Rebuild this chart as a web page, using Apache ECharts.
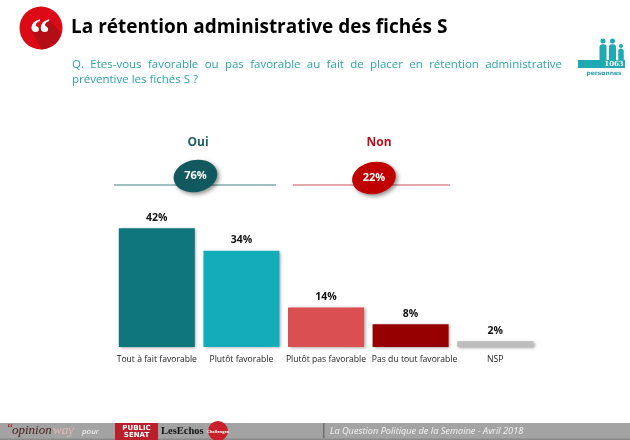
<!DOCTYPE html>
<html lang="fr">
<head>
<meta charset="UTF-8">
<title>La rétention administrative des fichés S</title>
<script src="https://cdn.jsdelivr.net/npm/echarts@6/dist/echarts.min.js"></script>
<style>
html, body { margin: 0; padding: 0; background: #fff; }
#main { width: 630px; height: 440px; }
</style>
</head>
<body>
<div id="main"></div>
<script>
var categories = ['Tout à fait favorable', 'Plutôt favorable', 'Plutôt pas favorable', 'Pas du tout favorable', 'NSP'];
var values = [42, 34, 14, 8, 2];
var barColors = ['#0f757c', '#12adb8', '#d94f52', '#960000', '#bdbdbd'];
var labelShift = [0, 0, 0, 8, 0];
var titleText = 'La rétention administrative des fichés S';
var questionLine1 = 'Q. Etes-vous favorable ou pas favorable au fait de placer en rétention administrative';
var questionLine2 = 'préventive les fichés S ?';
var groupNames = ['Oui', 'Non'];
var groupValues = ['76%', '22%'];
var sampleSize = '1063';
var footerText = 'La Question Politique de la Semaine - Avril 2018';

var font = '"Open Sans", sans-serif';
var serif = '"Liberation Serif", serif';
var teal = '#2fa3ad';
var iconTeal = '#1fa9b3';

// mot par mot pour garder le texte justifié de la question
function justified(line, x0, x1, y, size, color) {
    var ctx = document.createElement('canvas').getContext('2d');
    ctx.font = size + 'px "Open Sans"';
    var words = line.split(' ');
    var total = 0;
    words.forEach(function (w) { total += ctx.measureText(w).width; });
    var gap = (x1 - x0 - total) / (words.length - 1);
    var x = x0, out = [];
    words.forEach(function (w) {
        out.push({type: 'text', x: x, y: y, style: {text: w, font: size + 'px ' + font, fill: color, textVerticalAlign: 'middle'}});
        x += ctx.measureText(w).width + gap;
    });
    return out;
}

function txt(x, y, text, size, color, weight, align, extra) {
    var style = {
        text: text, fill: color,
        font: (extra && extra.italic ? 'italic ' : '') + (weight || 'normal') + ' ' + size + 'px ' + ((extra && extra.family) || font),
        textAlign: align || 'left', textVerticalAlign: 'middle'
    };
    return {type: 'text', x: x, y: y, z: 20, style: style};
}

function bubble(x, y, color, text) {
    return [
        {type: 'ellipse', x: x, y: y, rotation: 0.2, z: 10, shape: {cx: 0, cy: 0, rx: 22, ry: 16},
            style: {fill: color, shadowBlur: 4, shadowColor: 'rgba(0,0,0,0.45)', shadowOffsetX: 2, shadowOffsetY: 2}},
        txt(x, y, text, 11, '#fff', 'bold', 'center')
    ];
}

function person(x, headY, w, h) {
    return [
        {type: 'circle', z: 5, shape: {cx: x, cy: headY, r: w * 0.36}, style: {fill: iconTeal}},
        {type: 'rect', z: 5, shape: {x: x - w / 2, y: headY + w * 0.45, width: w, height: h, r: [3, 3, 0, 0]}, style: {fill: iconTeal}}
    ];
}

var graphics = [
    // en-tête
    {type: 'circle', shape: {cx: 41, cy: 28, r: 21.5}, style: {fill: '#dc0a17'}},
    {type: 'polygon', shape: {points: [[32, 32], [50, 20], [61, 33], [57, 42], [48, 48], [42, 49.4]]}, style: {fill: '#b30d16'}},
    txt(40, 36, '“', 42, '#fff', 'bold', 'center', {family: serif}),
    txt(71, 27.5, titleText, 19, '#000', 'bold'),
    txt(72, 79.5, questionLine2, 11.5, teal),
    // effectif
    {type: 'rect', z: 6, shape: {x: 578, y: 60, width: 47, height: 8}, style: {fill: iconTeal}},
    txt(614, 64.5, sampleSize, 7, '#fff', 'bold', 'center', {family: '"DejaVu Serif", serif'}),
    txt(604, 73, 'personnes', 6, teal, 'bold', 'center', {family: '"DejaVu Sans", sans-serif'}),
    // Oui / Non
    txt(198, 142.5, groupNames[0], 12, '#1f5f66', 'bold', 'center'),
    txt(379, 142.5, groupNames[1], 12, '#b5121b', 'bold', 'center'),
    {type: 'line', shape: {x1: 114, y1: 185, x2: 276, y2: 185}, style: {stroke: '#7fadaf', lineWidth: 1.5}},
    {type: 'line', shape: {x1: 293, y1: 185, x2: 450, y2: 185}, style: {stroke: '#dd8a90', lineWidth: 1.5}},
    // pied de page
    {type: 'rect', shape: {x: 0, y: 423, width: 630, height: 17}, style: {fill: '#a3a3a3'}},
    {type: 'rect', shape: {x: 0, y: 438.5, width: 630, height: 1.5}, style: {fill: '#8a8a8a'}},
    txt(6, 429, '“', 13, '#b5121b', 'normal', 'left', {family: serif, italic: true}),
    txt(12, 431, 'opinion', 13, '#4a1a1a', 'normal', 'left', {family: serif, italic: true}),
    txt(53, 431, 'way', 13, '#e6b8b8', 'normal', 'left', {family: serif, italic: true}),
    txt(82, 432, 'pour', 8, '#fff', 'normal', 'left', {italic: true}),
    {type: 'rect', shape: {x: 115, y: 423, width: 43, height: 17}, style: {fill: '#b8202b'}},
    txt(136.5, 428, 'PUBLIC', 7, '#fff', 'bold', 'center', {family: '"DejaVu Sans", sans-serif'}),
    txt(136.5, 435, 'SENAT', 7, '#fff', 'bold', 'center', {family: '"DejaVu Sans", sans-serif'}),
    txt(161, 431, 'LesEchos', 10.5, '#111', 'bold', 'left', {family: serif}),
    {type: 'circle', shape: {cx: 218, cy: 431, r: 10}, style: {fill: '#c8202b'}},
    txt(218, 432, 'Challenges', 4, '#fff', 'bold', 'center'),
    {type: 'rect', shape: {x: 323, y: 423, width: 1.5, height: 15}, style: {fill: '#6f6f6f'}},
    txt(330, 431, footerText, 9.2, '#f4f4f4', 'normal', 'left', {italic: true})
];
graphics = graphics
    .concat(justified(questionLine1, 72, 562, 64.5, 11.5, teal))
    .concat(bubble(195.5, 176, '#11595f', groupValues[0]))
    .concat(bubble(374, 178, '#c00000', groupValues[1]))
    .concat(person(603, 41, 7, 17.5))
    .concat(person(612.5, 41, 7, 17.5))
    .concat(person(621, 46, 5.5, 12.5));

var chart = echarts.init(document.getElementById('main'), null, {renderer: 'canvas'});
chart.setOption({
    animation: false,
    backgroundColor: '#fff',
    graphic: graphics,
    grid: {left: 114.5, top: 205.5, width: 423, height: 141.5},
    xAxis: {
        type: 'category',
        data: categories.map(function (c, i) {
            return {value: c, textStyle: {padding: [0, 0, 0, labelShift[i]]}};
        }),
        axisLine: {show: false},
        axisTick: {show: false},
        axisLabel: {interval: 0, margin: 8, fontFamily: font, fontSize: 8.6, color: '#222'}
    },
    yAxis: {type: 'value', min: 0, max: 50, show: false},
    series: [{
        type: 'bar',
        barWidth: 76,
        data: values.map(function (v, i) {
            return {value: v, itemStyle: {color: barColors[i]}};
        }),
        itemStyle: {shadowBlur: 3, shadowColor: 'rgba(0,0,0,0.35)', shadowOffsetX: 1.5, shadowOffsetY: 1},
        label: {show: true, position: 'top', distance: 5, formatter: '{c}%', fontFamily: font, fontWeight: 'bold', fontSize: 10.5, color: '#111'}
    }]
});
</script>
</body>
</html>
